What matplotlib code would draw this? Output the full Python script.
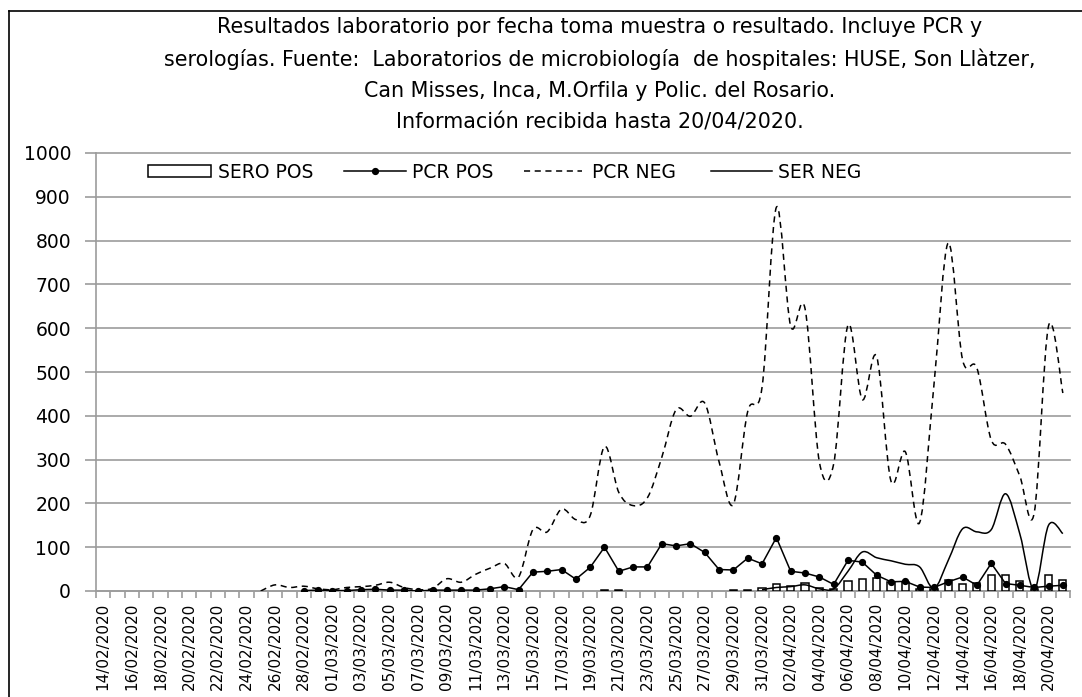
import numpy as np
import pandas as pd
import matplotlib
matplotlib.use("Agg")
import matplotlib.pyplot as plt
from matplotlib.path import Path
from matplotlib.patches import PathPatch, Patch
from matplotlib.lines import Line2D

nan = np.nan

# categories: one per day, 14/02/2020 .. 21/04/2020
dates = pd.date_range("2020-02-14", "2020-04-21", freq="D")
date_labels = [d.strftime("%d/%m/%Y") for d in dates]

title_lines = [
    "Resultados laboratorio por fecha toma muestra o resultado. Incluye PCR y",
    "serologías. Fuente:  Laboratorios de microbiología  de hospitales: HUSE, Son Llàtzer,",
    "Can Misses, Inca, M.Orfila y Polic. del Rosario.",
    "Información recibida hasta 20/04/2020.",
]

series_names = ["SERO POS", "PCR POS", "PCR NEG", "SER NEG"]

sero_pos = [nan] * 35 + [2, 2, nan, nan, nan, nan, nan, nan, nan, 2, 2,
                         6, 15, 11, 18, 6, 4, 22, 28, 30, 20, 21, 4, 4,
                         25, 16, 19, 36, 36, 22, 4, 37, 26]

pcr_pos = [nan] * 14 + [1, 2, 1, 1, 3, 4, 2, 2, 0, 2, 2, 2, 2, 5, 10, 3,
                        43, 45, 49, 27, 54, 100, 45, 55, 55, 108, 103, 108,
                        88, 49, 48, 75, 62, 122, 45, 41, 32, 15, 70, 66, 36,
                        21, 22, 9, 8, 21, 32, 13, 63, 17, 13, 8, 11, 13]

pcr_neg = [nan] * 11 + [0, 14, 8, 11, 5, 3, 8, 10, 13, 20, 8, 3, 6, 28, 20,
                        38, 52, 63, 32, 140, 135, 187, 163, 172, 330, 225,
                        195, 213, 305, 414, 399, 429, 295, 198, 410, 465, 876,
                        605, 645, 295, 290, 607, 437, 535, 251, 318, 156, 470,
                        795, 528, 509, 345, 335, 262, 178, 605, 452]

ser_neg = [nan] * 46 + [3, 8, 10, 14, 5, 5, 45, 89, 76, 69, 61, 55, 6, 70,
                        142, 135, 140, 222, 130, 3, 150, 131]


def smooth_path(xs, ys):
    # Excel-like smoothed line: cubic Bezier through every point
    xs = np.asarray(xs, float)
    ys = np.asarray(ys, float)
    idx = np.where(~np.isnan(ys))[0]
    runs = np.split(idx, np.where(np.diff(idx) > 1)[0] + 1)
    verts, codes = [], []
    for run in runs:
        px, py = xs[run], ys[run]
        n = len(px)
        verts.append((px[0], py[0]))
        codes.append(Path.MOVETO)
        for k in range(n - 1):
            k0, k3 = max(k - 1, 0), min(k + 2, n - 1)
            c1 = (px[k] + (px[k + 1] - px[k0]) / 6, py[k] + (py[k + 1] - py[k0]) / 6)
            c2 = (px[k + 1] - (px[k3] - px[k]) / 6, py[k + 1] - (py[k3] - py[k]) / 6)
            verts += [c1, c2, (px[k + 1], py[k + 1])]
            codes += [Path.CURVE4] * 3
    return Path(verts, codes)


W, H = 1082, 697
GRID = "#9c9c9c"
DASH = (0, (4, 3))
plt.rcParams["font.family"] = ["DejaVu Sans"]

fig = plt.figure(figsize=(W / 100, H / 100), dpi=100)
ax = fig.add_axes([96 / W, 1 - 591 / H, 974 / W, (591 - 153) / H])

x = np.arange(len(dates))
ax.bar(x, sero_pos, width=0.5, facecolor="white", edgecolor="black",
       linewidth=1.1, zorder=3)
ax.add_patch(PathPatch(smooth_path(x, pcr_neg), fill=False, edgecolor="black",
                       lw=1.1, linestyle=DASH, zorder=4))
ax.add_patch(PathPatch(smooth_path(x, ser_neg), fill=False, edgecolor="black",
                       lw=1.1, zorder=4))
ax.plot(x, pcr_pos, color="black", lw=1.1, marker="o", ms=4.2, zorder=5)

ax.set_xlim(-0.5, len(dates) - 0.5)
ax.set_ylim(0, 1000)
ax.set_yticks(range(0, 1001, 100))
ax.yaxis.grid(True, color=GRID, lw=1.2)
ax.set_axisbelow(True)
for gl in ax.get_ygridlines():
    gl.set_clip_on(False)
for s in ["top", "right"]:
    ax.spines[s].set_visible(False)
for s in ["left", "bottom"]:
    ax.spines[s].set_color(GRID)
    ax.spines[s].set_linewidth(1.2)

ax.set_xticks(x[::2])
ax.set_xticklabels(date_labels[::2], rotation=90)
ax.set_xticks(np.arange(-0.5, len(dates), 1), minor=True)
ax.tick_params(axis="x", which="major", length=0, pad=8.5, labelsize=11)
ax.tick_params(axis="x", which="minor", length=5, width=1.2, color=GRID)
ax.tick_params(axis="y", length=8, width=1.2, color=GRID, pad=10, labelsize=13.5)

# title, line by line
title_y = [27, 59, 91, 123]
title_txt = [fig.text(600 / W, 1 - yy / H, t, ha="center", va="center", fontsize=13)
             for t, yy in zip(title_lines, title_y)]
fig.canvas.draw()
r = fig.canvas.get_renderer()
scale = 763 / title_txt[0].get_window_extent(r).width
for t in title_txt:
    t.set_fontsize(13 * scale)

# legend: one entry each, at the reference positions
handles = [
    Patch(facecolor="white", edgecolor="black", lw=1.1),
    Line2D([], [], color="black", lw=1.1, marker="o", ms=4.2),
    Line2D([], [], color="black", lw=1.1, linestyle=DASH),
    Line2D([], [], color="black", lw=1.1),
]
leg_x = [148, 344, 524, 711]
leg_len = [3.36, 3.3, 3.1, 3.25]
leg_pad = [0.37, 0.32, 0.53, 0.32]
for h, name, lx, hl, hp in zip(handles, series_names, leg_x, leg_len, leg_pad):
    fig.legend(handles=[h], labels=[name], loc="center left",
               bbox_to_anchor=(lx / W, 1 - 172 / H), frameon=False,
               borderpad=0, borderaxespad=0, handlelength=hl,
               handleheight=0.55, handletextpad=hp, numpoints=1,
               fontsize=13.5)

# outer chart border (left and top edges visible)
fig.add_artist(Line2D([8.5 / W, 8.5 / W], [0, 1 - 11 / H], color="black", lw=1.2))
fig.add_artist(Line2D([8.5 / W, 1], [1 - 11 / H, 1 - 11 / H], color="black", lw=1.2))

fig.savefig("out.png", dpi=100)
